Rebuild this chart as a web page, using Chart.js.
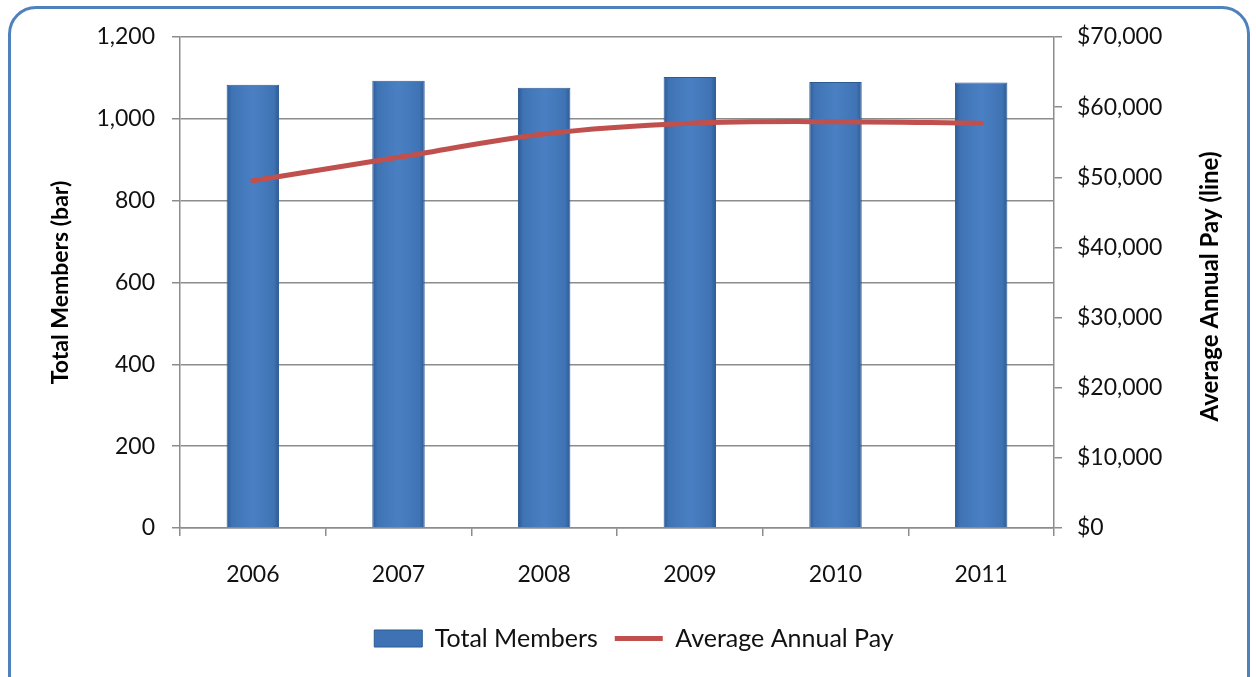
<!DOCTYPE html>
<html lang="en">
<head>
<meta charset="UTF-8">
<title>Total Members and Average Annual Pay</title>
<script src="https://cdn.jsdelivr.net/npm/chart.js"></script>
<style>
    html, body {
        margin: 0;
        padding: 0;
        background: #fff;
        overflow: hidden;
    }
    .wrap {
        position: relative;
        width: 1256px;
        height: 677px;
        overflow: hidden;
    }
    .frame {
        position: absolute;
        left: 8px;
        top: 6px;
        width: 1236px;
        height: 720px;
        border: 3px solid #4f81bd;
        border-radius: 28px;
    }
    #chart {
        position: absolute;
        left: 0;
        top: 0;
    }
</style>
</head>
<body>
<div class="wrap">
    <div class="frame"></div>
    <canvas id="chart" width="1256" height="677"></canvas>
</div>
<script>
    const years = ['2006', '2007', '2008', '2009', '2010', '2011'];
    const totalMembers = [1083, 1093, 1076, 1102, 1090, 1089];
    const averagePay = [49500, 52850, 56170, 57700, 57930, 57700];

    const font = "Lato, 'Liberation Sans', sans-serif";
    const gridGray = '#8c8c8c';
    const barPct = 0.72, catPct = 0.5;

    // horizontal shading so the bars look bevelled
    function barFill(ctx) {
        const chart = ctx.chart;
        const xs = chart.scales.x;
        if (!xs || ctx.type !== 'data' || !xs.width) return '#4a7ebb';
        const cx = xs.getPixelForValue(ctx.dataIndex);
        const w = xs.width / years.length * catPct * barPct;
        const g = chart.ctx.createLinearGradient(cx - w / 2, 0, cx + w / 2, 0);
        g.addColorStop(0, '#2d5b95');
        g.addColorStop(0.1, '#3f73b4');
        g.addColorStop(0.5, '#4a80c3');
        g.addColorStop(0.9, '#3f73b4');
        g.addColorStop(1, '#2d5b95');
        return g;
    }

    // axis titles drawn by hand, both reading bottom to top
    const axisTitles = {
        id: 'axisTitles',
        afterDraw: function (chart) {
            const c = chart.ctx;
            const a = chart.chartArea;
            const midY = (a.top + a.bottom) / 2;
            c.save();
            c.fillStyle = '#000';
            c.font = "bold 23px " + font;
            c.textAlign = 'center';
            c.textBaseline = 'middle';
            c.translate(a.left - 119, midY);
            c.rotate(-Math.PI / 2);
            c.fillText('Total Members (bar)', 0, 0);
            c.restore();
            c.save();
            c.fillStyle = '#000';
            c.font = "bold 24px " + font;
            c.textAlign = 'center';
            c.textBaseline = 'middle';
            c.translate(a.right + 156, midY + 4);
            c.rotate(-Math.PI / 2);
            c.fillText('Average Annual Pay (line)', 0, 0);
            c.restore();
        }
    };

    new Chart(document.getElementById('chart'), {
        data: {
            labels: years,
            datasets: [
                {
                    type: 'bar',
                    label: 'Total Members',
                    data: totalMembers,
                    yAxisID: 'y',
                    backgroundColor: barFill,
                    borderColor: '#2c5a93',
                    borderWidth: 1,
                    barPercentage: barPct,
                    categoryPercentage: catPct,
                    order: 2
                },
                {
                    type: 'line',
                    label: 'Average Annual Pay',
                    data: averagePay,
                    yAxisID: 'y1',
                    borderColor: '#c0504d',
                    backgroundColor: '#c0504d',
                    borderWidth: 5,
                    pointRadius: 0,
                    tension: 0.35,
                    borderCapStyle: 'round',
                    fill: false,
                    order: 1
                }
            ]
        },
        options: {
            responsive: false,
            animation: false,
            layout: { padding: { left: 48, right: 36, top: 37, bottom: 16 } },
            plugins: {
                tooltip: { enabled: false },
                legend: {
                    position: 'bottom',
                    labels: {
                        font: { family: font, size: 25 },
                        color: '#111',
                        usePointStyle: true,
                        pointStyleWidth: 48,
                        boxHeight: 17,
                        padding: 17,
                        generateLabels: function (chart) {
                            return chart.data.datasets.map(function (ds, i) {
                                const isLine = ds.type === 'line';
                                return {
                                    text: ds.label,
                                    datasetIndex: i,
                                    fillStyle: isLine ? '#c0504d' : '#3e72b4',
                                    strokeStyle: isLine ? '#c0504d' : '#2c5a93',
                                    lineWidth: isLine ? 5 : 1,
                                    pointStyle: isLine ? 'line' : 'rect',
                                    fontColor: '#111'
                                };
                            });
                        }
                    }
                }
            },
            scales: {
                x: {
                    grid: {
                        display: true,
                        drawOnChartArea: false,
                        drawTicks: true,
                        tickLength: 8,
                        color: gridGray,
                        lineWidth: 1.5,
                        offset: true
                    },
                    border: { color: gridGray, width: 1.5 },
                    ticks: {
                        font: { family: font, size: 23 },
                        color: '#111',
                        padding: 25
                    },
                    afterFit: function (s) { s.height = 81; }
                },
                y: {
                    position: 'left',
                    min: 0,
                    max: 1200,
                    grid: {
                        color: gridGray,
                        lineWidth: 1.5,
                        tickLength: 8
                    },
                    border: { color: gridGray, width: 1.5 },
                    ticks: {
                        stepSize: 200,
                        font: { family: font, size: 23 },
                        color: '#111',
                        padding: 17,
                        callback: function (v) { return v.toLocaleString('en-US'); }
                    },
                    afterFit: function (s) { s.width = 132; }
                },
                y1: {
                    position: 'right',
                    min: 0,
                    max: 70000,
                    grid: {
                        drawOnChartArea: false,
                        color: gridGray,
                        lineWidth: 1.5,
                        tickLength: 8
                    },
                    border: { color: gridGray, width: 1.5 },
                    ticks: {
                        stepSize: 10000,
                        font: { family: font, size: 23 },
                        color: '#111',
                        padding: 15,
                        callback: function (v) { return '$' + v.toLocaleString('en-US'); }
                    },
                    afterFit: function (s) { s.width = 166; }
                }
            }
        },
        plugins: [axisTitles]
    });
</script>
</body>
</html>
